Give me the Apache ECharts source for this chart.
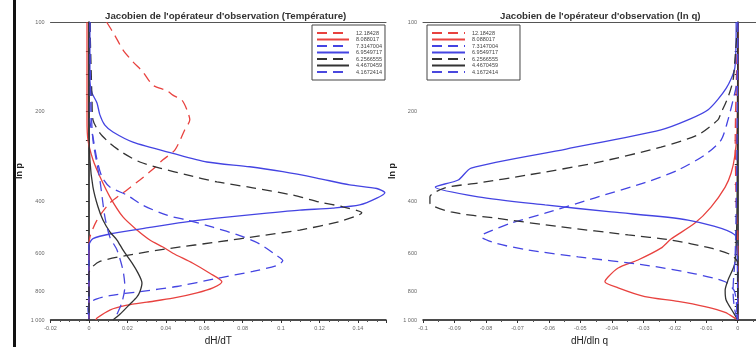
<!DOCTYPE html>
<html><head><meta charset="utf-8">
<script src="https://cdn.jsdelivr.net/npm/echarts@6/dist/echarts.min.js"></script>
<style>html,body{margin:0;padding:0;background:#fff}#c{width:756px;height:347px}</style>
</head><body><div id="c"></div>
<script>
// ---- names / ticks ----
const channelNames = ['12.18428', '8.088017', '7.3147004', '6.9549717', '6.2566555', '4.4670459', '4.1672414'];
const yTickValues = [100,125,150,175,200,250,300,350,400,450,500,550,600,650,700,750,800,850,900,950,1000];
const yLabelValues = [100,200,400,600,800,1000];

// ---- left panel: dH/dT  [x, p] ----
const T_12_18428 = [[0.0092,100],[0.0135,111],[0.0177,124],[0.0229,136],[0.0281,147],[0.0333,163],[0.0406,170],[0.0437,176],[0.0484,183],[0.0510,197],[0.0525,213],[0.0499,230],[0.0447,269],[0.0385,290],[0.0328,314],[0.0265,339],[0.0198,366],[0.0109,405],[0.0042,462],[0.0005,527],[0,582],[0,1000]];
const T_8_088017 = [[-0.001,100],[-0.001,213],[-0.0005,249],[0.0021,290],[0.0057,330],[0.0109,386],[0.0177,451],[0.0250,499],[0.0317,539],[0.0385,569],[0.0437,597],[0.0541,645],[0.0629,697],[0.0692,744],[0.0645,780],[0.0562,811],[0.0437,845],[0.0302,871],[0.0198,892],[0.0109,926],[0.0042,985],[0.0036,1000]];
const T_7_3147004 = [[0.0005,100],[0.0005,213],[0.0021,243],[0.0042,290],[0.0068,331],[0.0109,358],[0.0198,381],[0.0281,412],[0.0406,445],[0.0510,462],[0.0645,488],[0.0785,521],[0.0889,556],[0.0978,608],[0.1009,632],[0.0978,656],[0.0853,687],[0.0666,725],[0.0458,772],[0.0265,803],[0.0109,828],[0.0021,861],[-0.0005,915],[0,1000]];
const T_6_9549717 = [[0.0005,100],[0.0005,157],[0.0016,173],[0.0042,187],[0.0057,205],[0.0083,222],[0.0125,234],[0.0229,253],[0.0437,276],[0.0614,295],[0.0837,306],[0.1009,318],[0.1186,334],[0.1357,352],[0.1498,362],[0.1540,374],[0.1498,390],[0.1409,411],[0.1269,421],[0.1097,428],[0.0926,438],[0.0666,455],[0.0489,470],[0.0317,489],[0.0125,512],[0.0021,533],[0,563],[0,1000]];
const T_6_2566555 = [[0.0005,100],[0.0016,183],[0.0021,213],[0.0057,236],[0.0109,255],[0.0177,275],[0.0265,295],[0.0369,309],[0.0510,326],[0.0666,344],[0.0853,360],[0.1061,381],[0.1201,402],[0.1321,417],[0.1420,437],[0.1305,467],[0.1097,499],[0.0889,522],[0.0681,546],[0.0421,575],[0.0198,607],[0.0057,636],[0.0016,665],[0,696],[0,1000]];
const T_4_4670459 = [[0,100],[0,213],[0.0005,290],[0.0021,358],[0.0047,417],[0.0073,462],[0.0109,506],[0.0146,539],[0.0177,582],[0.0224,643],[0.0255,695],[0.0276,751],[0.0265,804],[0.0250,836],[0.0213,885],[0.0161,957],[0.0125,1000]];
const T_4_1672414 = [[0.0005,100],[0.001,183],[0.0021,249],[0.0057,339],[0.0083,451],[0.0109,527],[0.0146,582],[0.0177,680],[0.0187,773],[0.0172,872],[0.0146,957],[0.0135,1000]];

// ---- right panel: dH/dln q  [x, p] ----
const Q_12_18428 = [[0,100],[-0.0004,150],[-0.0008,250],[-0.0005,400],[0,520],[0,1000]];
const Q_8_088017 = [[0,100],[-0.0002,230],[-0.0009,280],[-0.0021,321],[-0.0040,358],[-0.0085,418],[-0.0136,473],[-0.0212,535],[-0.0244,574],[-0.0317,629],[-0.0380,669],[-0.0412,717],[-0.0422,744],[-0.0380,780],[-0.0295,835],[-0.0190,866],[-0.0104,902],[-0.0040,943],[-0.0005,992],[0,1000]];
const Q_7_3147004 = [[0,100],[-0.0002,157],[-0.0015,183],[-0.0031,213],[-0.0053,249],[-0.0104,279],[-0.0190,314],[-0.0295,346],[-0.0453,389],[-0.0612,438],[-0.0720,473],[-0.0803,512],[-0.0816,524],[-0.0765,554],[-0.0666,582],[-0.0507,614],[-0.0295,654],[-0.0136,700],[-0.0040,744],[-0.0012,794],[-0.0005,857],[-0.0002,1000]];
const Q_6_9549717 = [[-0.0005,100],[-0.0009,142],[-0.0037,167],[-0.0094,197],[-0.0158,213],[-0.0244,230],[-0.0545,267],[-0.0847,309],[-0.0888,339],[-0.0961,358],[-0.0825,386],[-0.0612,411],[-0.0402,434],[-0.0158,462],[-0.0009,518],[-0.0002,600],[0,1000]];
const Q_6_2566555 = [[0,100],[-0.0009,134],[-0.0015,157],[-0.0031,179],[-0.0053,202],[-0.0063,213],[-0.0126,239],[-0.0244,263],[-0.0453,297],[-0.0666,326],[-0.0825,347],[-0.0930,360],[-0.0978,386],[-0.0978,405],[-0.0911,434],[-0.0771,455],[-0.0561,487],[-0.0348,518],[-0.0212,539],[-0.0085,574],[-0.0021,605],[0,643],[0,1000]];
const Q_4_4670459 = [[0,100],[-0.0002,396],[-0.0009,643],[-0.0031,735],[-0.0040,794],[-0.0037,857],[-0.0015,940],[0,1000]];
const Q_4_1672414 = [[0,100],[-0.0003,300],[-0.0008,600],[-0.0015,800],[-0.0010,920],[0,1000]];

const leftData = [T_12_18428, T_8_088017, T_7_3147004, T_6_9549717, T_6_2566555, T_4_4670459, T_4_1672414];
const rightData = [Q_12_18428, Q_8_088017, Q_7_3147004, Q_6_9549717, Q_6_2566555, Q_4_4670459, Q_4_1672414];

const RED = '#e8423f', BLUE = '#4444e2', BLACK = '#333333';
const styles = [
  {color: RED, type: [10, 6]},
  {color: RED, type: 'solid'},
  {color: BLUE, type: [10, 6]},
  {color: BLUE, type: 'solid'},
  {color: BLACK, type: [10, 6]},
  {color: BLACK, type: 'solid'},
  {color: '#4a48de', type: [10, 6]}
];

const series = [];
function add(dataSets, idx) {
  dataSets.forEach((d, i) => {
    series.push({
      name: channelNames[i], type: 'line', xAxisIndex: idx, yAxisIndex: idx,
      data: d, symbol: 'none', smooth: 0.25, clip: true,
      lineStyle: {color: styles[i].color, width: 1.3, type: styles[i].type},
      itemStyle: {color: styles[i].color},
      emphasis: {disabled: true}, animation: false
    });
  });
}
add(leftData, 0);
add(rightData, 1);

const FONT = 'Liberation Sans';
const tickLabel = {fontSize: 5.5, color: '#666', fontFamily: FONT};

function yAxis(gridIndex) {
  return {
    type: 'log', logBase: 10, gridIndex, min: 100, max: 1000, inverse: true,
    name: 'ln p', nameLocation: 'middle', nameRotate: 90, nameGap: 26,
    nameTextStyle: {fontSize: 9, fontWeight: 'bold', color: '#222', fontFamily: FONT},
    axisLine: {show: true, lineStyle: {color: '#111', width: 1.5}},
    axisTick: {show: true, length: 3, customValues: yTickValues, lineStyle: {color: '#333', width: 1}},
    axisLabel: {show: true, margin: 6, customValues: yLabelValues, ...tickLabel,
      formatter: v => (Math.round(v) === 1000 ? '1 000' : String(Math.round(v)))},
    minorTick: {show: false}, splitLine: {show: false}
  };
}
function xAxis(gridIndex, min, max, interval, minorSplit, name) {
  return {
    type: 'value', gridIndex, min, max, interval, position: 'bottom',
    name, nameLocation: 'middle', nameGap: 13,
    nameTextStyle: {fontSize: 10, color: '#222', fontFamily: FONT},
    axisLine: {show: true, onZero: false, lineStyle: {color: '#111', width: 1.5}},
    axisTick: {show: true, length: 3, lineStyle: {color: '#333'}},
    minorTick: {show: true, splitNumber: minorSplit, length: 2, lineStyle: {color: '#555'}},
    axisLabel: {show: true, margin: 5, showMaxLabel: false, ...tickLabel},
    splitLine: {show: false}, minorSplitLine: {show: false}
  };
}
function topAxis(gridIndex, min, max) {
  return {type: 'value', gridIndex, min, max, position: 'top',
    axisLine: {show: true, onZero: false, lineStyle: {color: '#555', width: 1}},
    axisTick: {show: false}, axisLabel: {show: false}, splitLine: {show: false}};
}
function legend(left, padding, itemWidth) {
  return {
    left, top: 25, orient: 'vertical', data: channelNames, selectedMode: false,
    itemWidth, itemHeight: 6, itemGap: 0.5, padding,
    itemStyle: {opacity: 0},
    borderColor: '#444', borderWidth: 1, backgroundColor: '#fff',
    textStyle: {fontSize: 5.5, lineHeight: 6, color: '#444', fontFamily: FONT, padding: [0, 0, 0, 2]}
  };
}

const chart = echarts.init(document.getElementById('c'), null, {renderer: 'canvas'});
chart.setOption({
  backgroundColor: '#fff',
  animation: false,
  title: [
    {text: "Jacobien de l'opérateur d'observation (Température)", left: 100, top: 6,
     textStyle: {fontSize: 9.7, fontWeight: 'bold', color: '#333', fontFamily: FONT}},
    {text: "Jacobien de l'opérateur d'observation (ln q)", left: 495, top: 6,
     textStyle: {fontSize: 9.7, fontWeight: 'bold', color: '#333', fontFamily: FONT}}
  ],
  grid: [
    {left: 50.5, top: 22, width: 335.5, height: 298, outerBoundsMode: 'none', containLabel: false},
    {left: 423, top: 22, width: 333, height: 298, outerBoundsMode: 'none', containLabel: false}
  ],
  xAxis: [
    xAxis(0, -0.02, 0.1546, 0.02, 4, 'dH/dT'),
    xAxis(1, -0.1, 0.0058, 0.01, 2, 'dH/dln q'),
    topAxis(0, -0.02, 0.1546),
    topAxis(1, -0.1, 0.0058)
  ],
  yAxis: [yAxis(0), yAxis(1)],
  legend: [legend(312, [5, 3, 5, 4], 32), legend(427, [5, 22, 5, 4], 33)],
  graphic: [
    {type: 'rect', shape: {x: 13, y: 0, width: 3, height: 347}, style: {fill: '#111'}}
  ],
  series
});
</script></body></html>
